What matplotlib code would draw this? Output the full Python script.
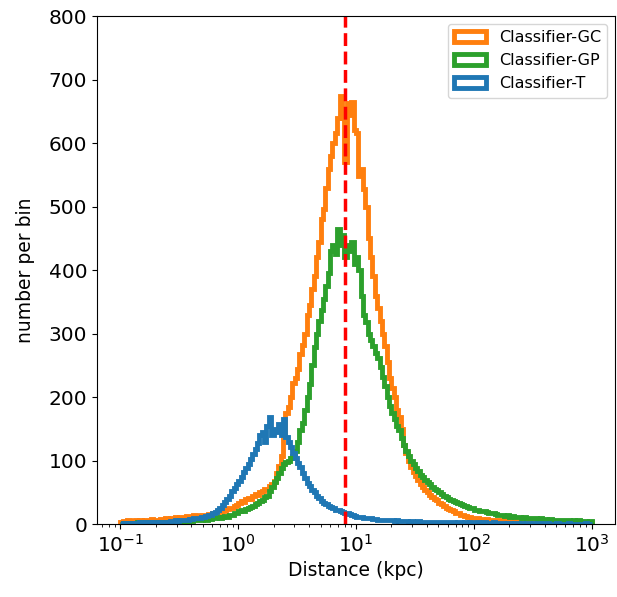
import numpy as np
import matplotlib
matplotlib.use("Agg")
import matplotlib.pyplot as plt

# log10 bin edges: 200 bins from 0.1 to 1000 kpc
log_lo, log_hi, n_bins = -1.0, 3.0, 200

counts_gc = [
    3,5,4,6,5,4,7,5,6,5,6,7,5,8,6,7,6,8,7,9,
    8,10,9,11,10,12,11,10,13,12,11,14,13,12,15,14,13,16,15,17,
    18,20,19,22,21,24,26,25,28,30,33,36,35,39,41,40,44,47,46,50,
    52,56,55,60,64,68,80,92,108,140,175,185,200,222,230,245,268,282,300,330,
    345,370,390,420,445,480,496,530,560,580,600,616,640,674,640,570,663,645,665,620,
    616,548,560,527,500,450,420,390,360,340,320,300,280,255,230,215,200,180,168,150,
    125,112,100,90,82,76,70,64,58,54,50,46,43,40,38,34,31,29,26,24,
    22,20,18,17,15,14,13,12,11,10,9,9,8,8,7,8,7,6,7,6,
    6,6,5,6,5,5,6,5,5,4,5,5,4,5,4,4,5,4,4,4,
    4,4,3,4,4,3,4,3,3,4,3,3,4,3,3,3,4,3,3,4,
]

counts_gp = [
    1,2,1,2,2,1,2,3,2,2,3,2,3,2,3,3,2,3,4,3,
    3,4,3,4,5,4,5,4,5,6,5,6,7,6,7,8,7,9,8,10,
    9,11,10,12,13,12,14,15,17,18,20,22,21,24,26,27,29,31,33,36,
    38,42,45,52,58,66,72,80,88,95,98,100,104,108,115,130,148,160,180,200,
    220,250,279,300,320,337,355,375,395,430,440,425,465,440,455,420,440,430,445,410,
    420,400,360,330,318,300,290,280,270,262,248,232,218,200,186,175,165,155,148,135,
    125,115,107,100,95,88,84,78,74,70,66,63,59,56,54,50,47,45,42,40,
    38,36,35,33,31,30,29,27,26,25,23,22,21,20,20,19,18,17,17,16,
    15,15,14,13,14,12,13,12,11,11,10,11,10,9,10,9,9,8,9,8,
    8,7,8,7,7,6,7,6,6,7,6,5,6,5,6,5,5,5,4,5,
]

counts_t = [
    1,2,1,2,2,1,2,2,3,2,2,3,3,2,3,4,3,3,4,4,
    4,5,5,6,5,6,7,6,7,8,8,9,10,9,11,12,13,14,15,17,
    19,22,25,30,35,40,45,52,57,63,68,75,82,88,95,102,110,118,128,140,
    145,130,155,168,140,150,145,158,140,165,138,130,122,112,104,97,90,80,72,65,
    60,54,50,45,41,37,34,31,29,27,25,23,22,20,19,18,17,16,14,13,
    12,12,11,10,10,9,9,8,8,7,7,7,6,7,6,6,5,6,5,5,
    5,5,4,5,4,4,5,4,4,3,4,4,3,4,3,3,4,3,3,3,
    3,3,2,3,3,2,3,2,3,2,2,3,2,2,3,2,2,2,3,2,
    2,2,2,1,2,2,1,2,2,1,2,1,2,2,1,2,1,1,2,1,
    1,2,1,1,1,2,1,1,1,1,2,1,1,1,1,1,1,2,1,1,
]

series = [
    ("Classifier-GC", counts_gc, "#ff7f0e"),
    ("Classifier-GP", counts_gp, "#2ca02c"),
    ("Classifier-T", counts_t, "#1f77b4"),
]
sun_distance = 8.0

edges = np.logspace(log_lo, log_hi, n_bins + 1)
centers = np.sqrt(edges[:-1] * edges[1:])

fig = plt.figure(figsize=(6.17, 5.97), dpi=100)
ax = fig.add_axes([0.157, 0.122, 0.84, 0.851])

for label, vals, col in series:
    ax.hist(centers, bins=edges, weights=vals, histtype="step",
            color=col, lw=3.5, label=label)

ax.axvline(sun_distance, color="red", ls="--", lw=2.5)

ax.set_xscale("log")
ax.set_ylim(0, 800)
ax.set_yticks(range(0, 801, 100))
ax.tick_params(axis="both", labelsize=14.5)
ax.set_xlabel("Distance (kpc)", fontsize=13.5)
ax.set_ylabel("number per bin", fontsize=13.5, labelpad=10)
ax.legend(loc="upper right", fontsize=11.5)

fig.savefig("out.png", dpi=100)
